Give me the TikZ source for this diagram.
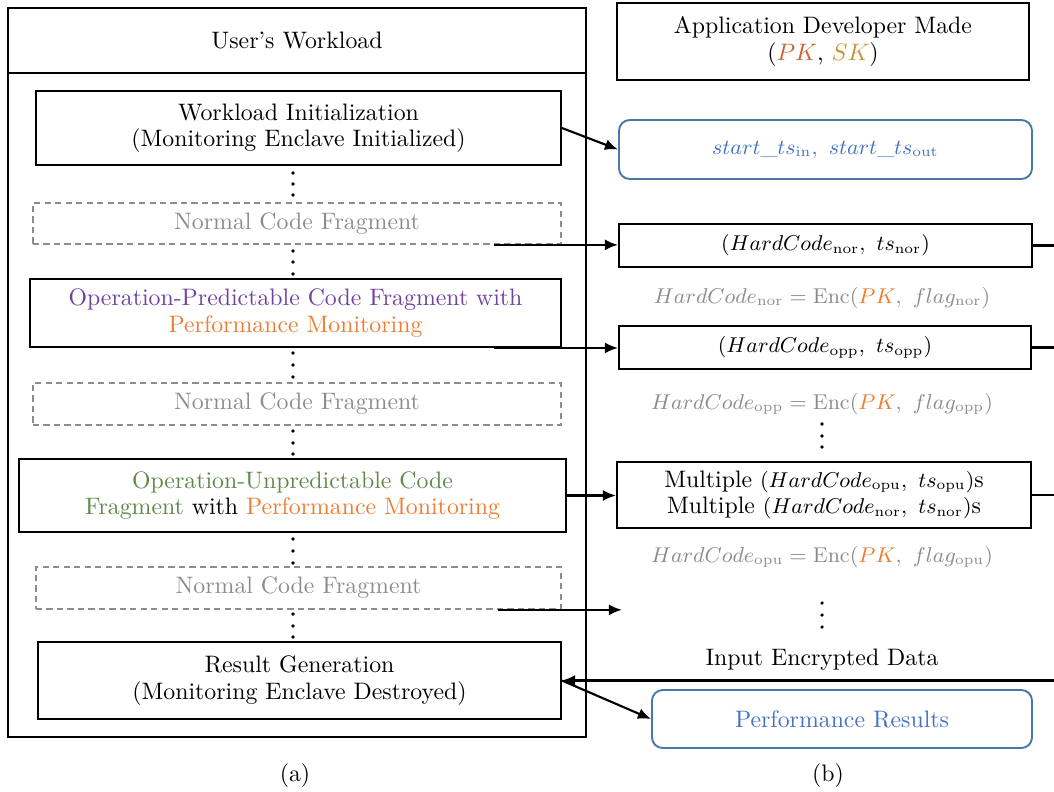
\documentclass[tikz,border=0pt]{standalone}
\usepackage{amsmath}
\usetikzlibrary{arrows.meta,calc}
\definecolor{oppurple}{RGB}{112,66,160}
\definecolor{pmorange}{RGB}{237,125,49}
\definecolor{opugreen}{RGB}{96,136,72}
\definecolor{pkred}{RGB}{204,100,52}
\definecolor{skgold}{RGB}{196,150,58}
\definecolor{resblue}{RGB}{68,114,196}
\definecolor{bordblue}{RGB}{72,120,165}
\definecolor{txtgray}{RGB}{140,140,140}
\newcommand\smallmath[1]{{\fontsize{9.2}{11}\selectfont$#1$}}
\begin{document}
\begin{tikzpicture}[x=0.42pt,y=-0.42pt,
  every node/.style={font=\fontsize{10}{11}\selectfont},
  sz/.style 2 args={minimum width=#1*0.42pt, minimum height=#2*0.42pt},
  box/.style={draw, line width=0.8pt, inner sep=0pt, align=center},
  dbox/.style={draw=txtgray, dashed, dash pattern=on 2.6pt off 1.8pt, line width=0.7pt, inner sep=0pt, align=center, text=txtgray},
  rbox/.style={draw=bordblue, line width=0.8pt, rounded corners=4.5pt, inner sep=0pt, align=center, text=resblue},
  arr/.style={-{Latex[length=5.5pt,width=4.6pt]}, line width=0.9pt},
  plain/.style={line width=0.9pt},
  formula/.style={text=txtgray, inner sep=0pt}]
\useasboundingbox (0,0) rectangle (1054,791);
% ---------- panel (a)
\node[box, sz={578}{729}] (outer) at (297,372.5) {};
\node[box, sz={578}{65}] (hdr) at (297,40.5) {User's Workload};
\node[box, sz={525}{74}] (wi) at (298.5,128) {Workload Initialization\\(Monitoring Enclave Initialized)};
\node[dbox, sz={528}{41}] (n1) at (297,223.5) {Normal Code Fragment};
\node[box, sz={531}{68}] (opp) at (295.5,313) {\textcolor{oppurple}{Operation-Predictable Code Fragment with}\\\textcolor{pmorange}{Performance Monitoring}};
\node[dbox, sz={528}{42}] (n2) at (297,404) {Normal Code Fragment};
\node[box, sz={547}{73}] (opu) at (292.5,495.5) {\textcolor{opugreen}{Operation-Unpredictable Code}\\\textcolor{opugreen}{Fragment} with \textcolor{pmorange}{Performance Monitoring}};
\node[dbox, sz={525}{42}] (n3) at (298.5,588) {Normal Code Fragment};
\node[box, sz={523}{77}] (res) at (299.5,680.5) {Result Generation\\(Monitoring Enclave Destroyed)};
\foreach \y in {173,184,195, 251,262,274, 353,365,377, 431,443,454, 539,551,563, 614,626,637}
  \fill (293,\y) circle[radius=0.75pt];
\node (la) at (295,776) {(a)};
% ---------- panel (b)
\node[box, sz={412}{77}] (dev) at (823,41.5) {Application Developer Made\\(\textcolor{pkred}{$PK$}, \textcolor{skgold}{$SK$})};
\node[rbox, sz={413}{59}] (st) at (825.5,149.5) {\smallmath{start\_ts_{\mathrm{in}},\ start\_ts_{\mathrm{out}}}};
\node[box, sz={413}{43}] (nor) at (825.5,245.5) {\smallmath{(HardCode_{\mathrm{nor}},\ ts_{\mathrm{nor}})}};
\node[formula] (fnor) at (822,298) {\smallmath{HardCode_{\mathrm{nor}}=\mathrm{Enc}(\textcolor{pmorange}{PK},\ flag_{\mathrm{nor}})}};
\node[box, sz={412}{43}] (oppr) at (825,347.5) {\smallmath{(HardCode_{\mathrm{opp}},\ ts_{\mathrm{opp}})}};
\node[formula] (fopp) at (822,404) {\smallmath{HardCode_{\mathrm{opp}}=\mathrm{Enc}(\textcolor{pmorange}{PK},\ flag_{\mathrm{opp}})}};
\node[box, sz={414}{66}] (multi) at (824,495) {Multiple \smallmath{(HardCode_{\mathrm{opu}},\ ts_{\mathrm{opu}})}s\\Multiple \smallmath{(HardCode_{\mathrm{nor}},\ ts_{\mathrm{nor}})}s};
\node[formula] (fopu) at (822,557) {\smallmath{HardCode_{\mathrm{opu}}=\mathrm{Enc}(\textcolor{pmorange}{PK},\ flag_{\mathrm{opu}})}};
\foreach \y in {424,436,447, 603,615,627}
  \fill (822,\y) circle[radius=0.75pt];
\node (inp) at (822,660) {Input Encrypted Data};
\node[rbox, sz={380}{58}] (perf) at (842,719) {Performance Results};
\node (lb) at (828,776) {(b)};
% ---------- connectors
\coordinate (edge) at (1054,0);
\coordinate (free) at (622,607);
\draw[arr] (wi.east) -- (st.west);
\draw[arr] ([xshift=-28.5pt]n1.south east) -- (nor.west |- n1.south);
\draw[arr] ([xshift=-28.5pt]opp.south east) -- (oppr.west |- opp.south);
\draw[arr] (opu.east) -- (multi.west |- opu.east);
\draw[arr] ([xshift=-26.8pt]n3.south east) -- (free |- n3.south);
\draw[plain] (nor.east) -- (nor.east -| edge);
\draw[plain] (oppr.east) -- (oppr.east -| edge);
\draw[plain] (multi.east) -- (multi.east -| edge);
\draw[arr] (edge |- res.east) -- (res.east);
\draw[arr] (res.east) -- (perf.west);
\end{tikzpicture}
\end{document}
